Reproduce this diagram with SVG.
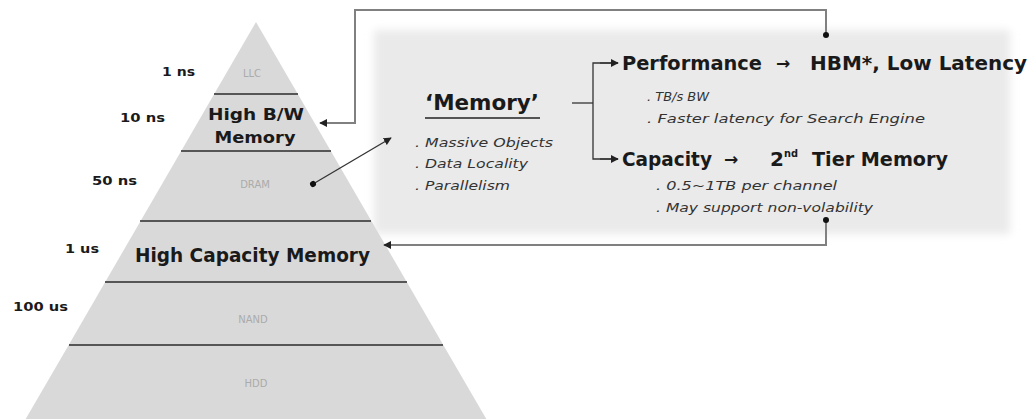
<svg xmlns="http://www.w3.org/2000/svg" width="1029" height="419" viewBox="0 0 1029 419">
<defs>
<style>
.tier{fill:#d9d9d9;stroke:none}
.div{stroke:#2a2a2a;stroke-width:1.5}
.lat{font-family:"DejaVu Sans",Verdana,sans-serif;font-weight:bold;font-size:12px;fill:#1a1a1a}
.fade{font-family:"DejaVu Sans",Verdana,sans-serif;font-size:10px;fill:#ababab;text-anchor:middle}
.big{font-family:"DejaVu Sans",Verdana,sans-serif;font-weight:bold;fill:#1a1a1a}
.it{font-family:"DejaVu Sans",Verdana,sans-serif;font-style:italic;font-size:13px;fill:#333}
.conn{fill:none;stroke:#808080;stroke-width:2}
.dk{fill:none;stroke:#333;stroke-width:1.3}
</style>
<filter id="soft" x="-5%" y="-10%" width="110%" height="120%"><feGaussianBlur stdDeviation="4"/></filter>
<marker id="ah" viewBox="0 0 10 10" refX="9" refY="5" markerWidth="8" markerHeight="8" markerUnits="userSpaceOnUse" orient="auto"><path d="M0,0 L10,5 L0,10 z" fill="#222"/></marker>
<marker id="dot" viewBox="0 0 10 10" refX="5" refY="5" markerWidth="6" markerHeight="6" markerUnits="userSpaceOnUse" orient="auto"><circle cx="5" cy="5" r="5" fill="#111"/></marker>
</defs>
<rect width="1029" height="419" fill="#ffffff"/>

<g id="memory-box">
<rect x="374" y="30" width="636" height="204" fill="#eaeaea" filter="url(#soft)"/>
</g>

<g id="pyramid">
<g id="tier-llc"><polygon class="tier" points="256,22 297.8,94 214.2,94"/><text class="fade" x="252" y="77">LLC</text></g>
<g id="tier-hbm"><polygon class="tier" points="214.2,94 297.8,94 330.8,151 181.2,151"/>
<text class="big" x="256" y="120" font-size="16" text-anchor="middle" textLength="96" lengthAdjust="spacingAndGlyphs">High B/W</text>
<text class="big" x="255" y="143" font-size="16" text-anchor="middle" textLength="81" lengthAdjust="spacingAndGlyphs">Memory</text></g>
<g id="tier-dram"><polygon class="tier" points="181.2,151 330.8,151 371.4,221 140.6,221"/><text class="fade" x="255" y="188">DRAM</text></g>
<g id="tier-hcm"><polygon class="tier" points="140.6,221 371.4,221 406.8,282 105.2,282"/>
<text class="big" x="135" y="262" font-size="19" textLength="235" lengthAdjust="spacingAndGlyphs">High Capacity Memory</text></g>
<g id="tier-nand"><polygon class="tier" points="105.2,282 406.8,282 443.3,345 68.7,345"/><text class="fade" x="253" y="323">NAND</text></g>
<g id="tier-hdd"><polygon class="tier" points="68.7,345 443.3,345 487.5,421 24.5,421"/><text class="fade" x="256" y="387">HDD</text></g>
<line class="div" x1="214" y1="94" x2="298" y2="94"/>
<line class="div" x1="181" y1="151" x2="331" y2="151"/>
<line class="div" x1="140" y1="221" x2="371" y2="221"/>
<line class="div" x1="105" y1="282" x2="407" y2="282"/>
<line class="div" x1="69" y1="345" x2="443" y2="345"/>
</g>

<g id="latency-labels">
<text class="lat" x="162" y="76" textLength="33" lengthAdjust="spacingAndGlyphs">1 ns</text>
<text class="lat" x="120" y="122" textLength="45" lengthAdjust="spacingAndGlyphs">10 ns</text>
<text class="lat" x="92" y="185" textLength="45" lengthAdjust="spacingAndGlyphs">50 ns</text>
<text class="lat" x="65" y="253" textLength="34" lengthAdjust="spacingAndGlyphs">1 us</text>
<text class="lat" x="13" y="311" textLength="55" lengthAdjust="spacingAndGlyphs">100 us</text>
</g>

<g id="memory-node">
<text class="big" x="425" y="110" font-size="22" textLength="114" lengthAdjust="spacingAndGlyphs">‘Memory’</text>
<line x1="425" y1="118" x2="540" y2="118" stroke="#222" stroke-width="1.5"/>
<text class="it" x="415" y="147" textLength="138" lengthAdjust="spacingAndGlyphs">. Massive Objects</text>
<text class="it" x="415" y="168" textLength="113" lengthAdjust="spacingAndGlyphs">. Data Locality</text>
<text class="it" x="415" y="190" textLength="95" lengthAdjust="spacingAndGlyphs">. Parallelism</text>
</g>

<g id="performance-node">
<text class="big" x="622" y="70" font-size="20" textLength="140" lengthAdjust="spacingAndGlyphs">Performance</text>
<text class="big" x="776" y="69" font-size="17" font-weight="normal">→</text>
<text class="big" x="810" y="70" font-size="20" textLength="217" lengthAdjust="spacingAndGlyphs">HBM*, Low Latency</text>
<text class="it" x="647" y="101" textLength="62" lengthAdjust="spacingAndGlyphs">. TB/s BW</text>
<text class="it" x="647" y="123" textLength="278" lengthAdjust="spacingAndGlyphs">. Faster latency for Search Engine</text>
</g>

<g id="capacity-node">
<text class="big" x="622" y="166" font-size="20" textLength="90" lengthAdjust="spacingAndGlyphs">Capacity</text>
<text class="big" x="724" y="165" font-size="17" font-weight="normal">→</text>
<text class="big" x="770" y="166" font-size="20">2</text>
<text class="big" x="784" y="157" font-size="11" textLength="14" lengthAdjust="spacingAndGlyphs">nd</text>
<text class="big" x="812" y="166" font-size="20" textLength="136" lengthAdjust="spacingAndGlyphs">Tier Memory</text>
<text class="it" x="656" y="190" textLength="181" lengthAdjust="spacingAndGlyphs">. 0.5~1TB per channel</text>
<text class="it" x="656" y="212" textLength="217" lengthAdjust="spacingAndGlyphs">. May support non-volability</text>
</g>

<g id="connectors">
<polyline class="conn" points="826,35 826,10 355,10 355,123 320,123" marker-start="url(#dot)" marker-end="url(#ah)"/>
<polyline class="conn" points="826,220 826,245 384,245" marker-start="url(#dot)" marker-end="url(#ah)"/>
<line class="dk" x1="313" y1="184" x2="391" y2="138" marker-start="url(#dot)" marker-end="url(#ah)"/>
<line class="dk" x1="572" y1="103" x2="593" y2="103"/>
<polyline class="dk" points="618,63 593,63 593,159 618,159"/>
<line class="dk" x1="600" y1="63" x2="618" y2="63" marker-end="url(#ah)"/>
<line class="dk" x1="600" y1="159" x2="618" y2="159" marker-end="url(#ah)"/>
</g>
</svg>
